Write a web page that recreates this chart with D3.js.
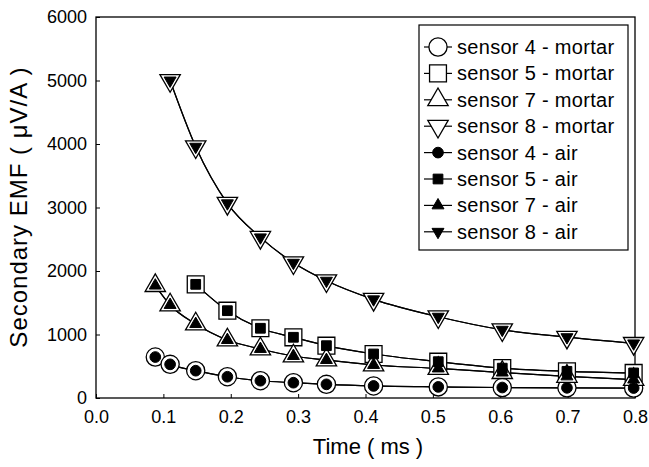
<!DOCTYPE html>
<html>
<head>
<meta charset="utf-8">
<script src="https://cdn.jsdelivr.net/npm/d3@7"></script>
<style>
  body { margin: 0; background: #fff; }
  svg text { font-family: "Liberation Sans", Arial, sans-serif; fill: #000; }
</style>
</head>
<body>
<svg id="chart" width="649" height="467"></svg>
<script>
// time axis (ms) of the measurements
const time = [0.088, 0.11, 0.148, 0.195, 0.244, 0.293, 0.342, 0.412, 0.508, 0.603, 0.699, 0.798];

// secondary EMF (uV/A), mortar
const s4Mortar = [645, 530, 430, 335, 272, 241, 215, 190, 175, 165, 160, 157];
const s5Mortar = [null, null, 1790, 1375, 1098, 956, 824, 693, 572, 470, 420, 395];
const s7Mortar = [1770, 1465, 1165, 913, 772, 661, 598, 520, 465, 400, 340, 290];
const s8Mortar = [null, 5000, 3957, 3066, 2530, 2130, 1847, 1554, 1280, 1075, 958, 860];

// secondary EMF (uV/A), air
const s4Air = [645, 530, 430, 335, 272, 241, 215, 190, 175, 165, 160, 157];
const s5Air = [null, null, 1790, 1375, 1098, 956, 824, 693, 572, 470, 420, 395];
const s7Air = [1770, 1465, 1165, 913, 772, 661, 598, 520, 465, 400, 340, 290];
const s8Air = [null, 5000, 3957, 3066, 2530, 2130, 1847, 1554, 1280, 1075, 958, 860];

const xTicks = [0.0, 0.1, 0.2, 0.3, 0.4, 0.5, 0.6, 0.7, 0.8];
const yTicks = [0, 1000, 2000, 3000, 4000, 5000, 6000];

const series = [
  { name: "sensor 4 - mortar", values: s4Mortar, shape: "circle", open: true },
  { name: "sensor 5 - mortar", values: s5Mortar, shape: "square", open: true },
  { name: "sensor 7 - mortar", values: s7Mortar, shape: "up", open: true },
  { name: "sensor 8 - mortar", values: s8Mortar, shape: "down", open: true },
  { name: "sensor 4 - air", values: s4Air, shape: "circle", open: false },
  { name: "sensor 5 - air", values: s5Air, shape: "square", open: false },
  { name: "sensor 7 - air", values: s7Air, shape: "up", open: false },
  { name: "sensor 8 - air", values: s8Air, shape: "down", open: false }
];

const svg = d3.select("#chart");

const plotLeft = 96, plotRight = 635, plotTop = 17, plotBottom = 398;

const x = d3.scaleLinear().domain([0, 0.8]).range([plotLeft, plotRight]);
const y = d3.scaleLinear().domain([0, 6000]).range([plotBottom, plotTop]);

// marker builder: open markers are larger than filled ones
function marker(shape, open) {
  const types = { circle: d3.symbolCircle, square: d3.symbolSquare, up: d3.symbolTriangle, down: d3.symbolTriangle };
  const sizes = open
    ? { circle: 260, square: 285, up: 180, down: 180 }
    : { circle: 90, square: 95, up: 62, down: 62 };
  return d3.symbol().type(types[shape]).size(sizes[shape])();
}

function drawMarker(g, shape, open, cx, cy) {
  g.append("path")
    .attr("d", marker(shape, open))
    .attr("transform", "translate(" + cx + "," + cy + ")" + (shape === "down" ? " rotate(180)" : ""))
    .attr("fill", open ? "#fff" : "#000")
    .attr("stroke", "#000")
    .attr("stroke-width", open ? 1.3 : 1);
}

// frame
svg.append("rect")
  .attr("x", plotLeft).attr("y", plotTop)
  .attr("width", plotRight - plotLeft).attr("height", plotBottom - plotTop)
  .attr("fill", "none").attr("stroke", "#000").attr("stroke-width", 1.3);

// axes, ticks pointing inside
const xAxis = svg.append("g")
  .attr("transform", "translate(0," + plotBottom + ")")
  .call(d3.axisBottom(x).tickValues(xTicks).tickSizeInner(-4).tickSizeOuter(0).tickPadding(12).tickFormat(d3.format(".1f")));
const yAxis = svg.append("g")
  .attr("transform", "translate(" + plotLeft + ",0)")
  .call(d3.axisLeft(y).tickValues(yTicks).tickSizeInner(-4).tickSizeOuter(0).tickPadding(9).tickFormat(d3.format("d")));

[xAxis, yAxis].forEach(a => {
  a.select(".domain").remove();
  a.selectAll("line").attr("stroke", "#000");
  a.selectAll("text").style("font-size", "18px");
});

// lines
const line = d3.line()
  .defined(d => d.v != null)
  .x(d => x(d.t))
  .y(d => y(d.v))
  .curve(d3.curveMonotoneX);

const plot = svg.append("g");

series.forEach(s => {
  const pts = time.map((t, i) => ({ t: t, v: s.values[i] })).filter(d => d.v != null);
  plot.append("path")
    .datum(pts)
    .attr("d", line)
    .attr("fill", "none")
    .attr("stroke", "#000")
    .attr("stroke-width", 1.2);
});

// markers: open (mortar) first, filled (air) over them
series.forEach(s => {
  time.forEach((t, i) => {
    if (s.values[i] == null) return;
    drawMarker(plot, s.shape, s.open, x(t), y(s.values[i]));
  });
});

// legend
const lg = svg.append("g");
lg.append("rect")
  .attr("x", 419).attr("y", 25)
  .attr("width", 209).attr("height", 225)
  .attr("fill", "#fff").attr("stroke", "#000").attr("stroke-width", 1.2);

series.forEach((s, i) => {
  const cy = 47 + i * 26.4;
  lg.append("line")
    .attr("x1", 424).attr("x2", 452)
    .attr("y1", cy).attr("y2", cy)
    .attr("stroke", "#000").attr("stroke-width", 1.2);
  drawMarker(lg, s.shape, s.open, 438, cy);
  lg.append("text")
    .attr("x", 457).attr("y", cy)
    .attr("dy", "0.35em")
    .style("font-size", "20px")
    .style("letter-spacing", "0.3px")
    .text(s.name);
});

// axis titles
svg.append("text")
  .attr("x", 368).attr("y", 454)
  .attr("text-anchor", "middle")
  .style("font-size", "22px")
  .text("Time ( ms )");

svg.append("text")
  .attr("transform", "translate(27,207) rotate(-90)")
  .attr("text-anchor", "middle")
  .style("font-size", "24px")
  .style("letter-spacing", "1px")
  .text("Secondary EMF ( μV/A )");
</script>
</body>
</html>
